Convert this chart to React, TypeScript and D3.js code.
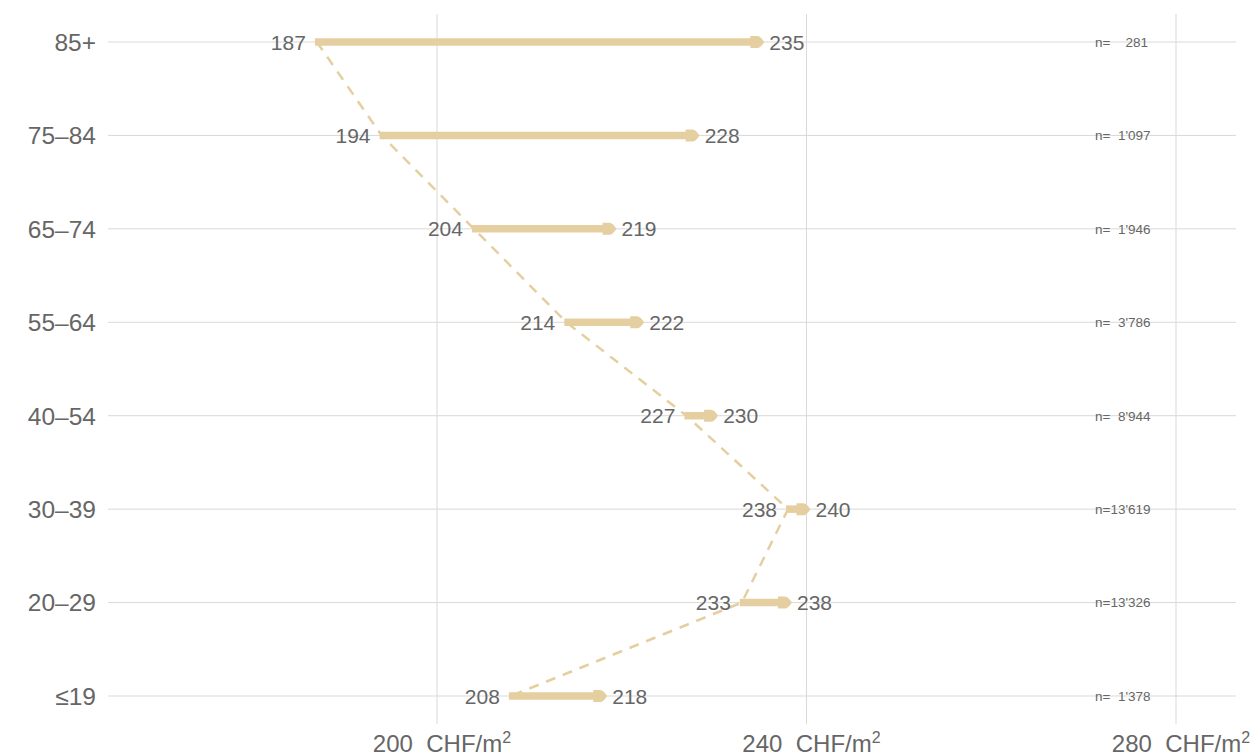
import React from 'react';
import * as d3 from 'd3';

const categories = ['85+', '75–84', '65–74', '55–64', '40–54', '30–39', '20–29', '≤19'];
const startValues = [187, 194, 204, 214, 227, 238, 233, 208];
const endValues = [235, 228, 219, 222, 230, 240, 238, 218];
const nLabels = ['\u2007\u2007281', "\u20071'097", "\u20071'946", "\u20073'786", "\u20078'944", "13'619", "13'326", "\u20071'378"];
const xTicks = [200, 240, 280];

const W = 1253;
const H = 756;
const BEIGE = '#e5cfa0';
const GRID = '#d9d9d9';
const TEXT = '#666666';
const FONT = '"Liberation Sans", Arial, Helvetica, sans-serif';

export default function App() {
  const x = d3.scaleLinear().domain([200, 280]).range([437, 1176]);
  const y = d3.scalePoint<string>().domain(categories).range([42, 696]);

  const rows = categories.map((c, i) => ({
    cat: c,
    s: startValues[i],
    e: endValues[i],
    n: nLabels[i],
    y: y(c) as number,
  }));

  const dashLine = d3
    .line<{ s: number; y: number }>()
    .x((d) => x(d.s))
    .y((d) => d.y)(rows);

  const arrowHead = (tx: number, ty: number) =>
    `M${tx - 14},${ty - 6} L${tx - 7},${ty - 6} Q${tx - 4},${ty - 6} ${tx},${ty} Q${tx - 4},${ty + 6} ${tx - 7},${ty + 6} L${tx - 14},${ty + 6} Z`;

  return (
    <svg
      width={W}
      height={H}
      style={{ position: 'absolute', left: 0, top: 0, fontFamily: FONT }}
    >
      <rect x={0} y={0} width={W} height={H} fill="#ffffff" />
      {xTicks.map((t) => (
        <line key={'v' + t} x1={x(t)} x2={x(t)} y1={14} y2={724} stroke={GRID} strokeWidth={1} />
      ))}
      {rows.map((r) => (
        <line key={'h' + r.cat} x1={108} x2={1236} y1={r.y} y2={r.y} stroke={GRID} strokeWidth={1} />
      ))}
      {rows.map((r) => (
        <text
          key={'yl' + r.cat}
          x={96}
          y={r.y}
          dy="0.36em"
          textAnchor="end"
          fontSize={24.5}
          fill={TEXT}
        >
          {r.cat}
        </text>
      ))}
      <path d={dashLine || ''} fill="none" stroke={BEIGE} strokeWidth={2.5} strokeDasharray="10,8" />
      {rows.map((r) => {
        const x0 = x(r.s) - 2;
        const x1 = x(r.e) + 4;
        return (
          <g key={'a' + r.cat}>
            <line x1={x0} x2={x1 - 10} y1={r.y} y2={r.y} stroke={BEIGE} strokeWidth={7.5} />
            <path d={arrowHead(x1, r.y)} fill={BEIGE} />
          </g>
        );
      })}
      {rows.map((r) => (
        <g key={'vl' + r.cat}>
          <text x={x(r.s) - 11} y={r.y} dy="0.36em" textAnchor="end" fontSize={21} fill={TEXT}>
            {r.s}
          </text>
          <text x={x(r.e) + 9} y={r.y} dy="0.36em" textAnchor="start" fontSize={21} fill={TEXT}>
            {r.e}
          </text>
        </g>
      ))}
      {rows.map((r) => (
        <text key={'n' + r.cat} x={1095} y={r.y} dy="0.36em" fontSize={13.5} fill={TEXT}>
          {'n=' + r.n}
        </text>
      ))}
      {xTicks.map((t) => (
        <text key={'xl' + t} x={x(t) + 5} y={752} textAnchor="middle" fontSize={24} fill={TEXT}>
          {t + '\u00a0\u00a0CHF/m'}
          <tspan dy={-9} fontSize={16}>2</tspan>
        </text>
      ))}
    </svg>
  );
}
